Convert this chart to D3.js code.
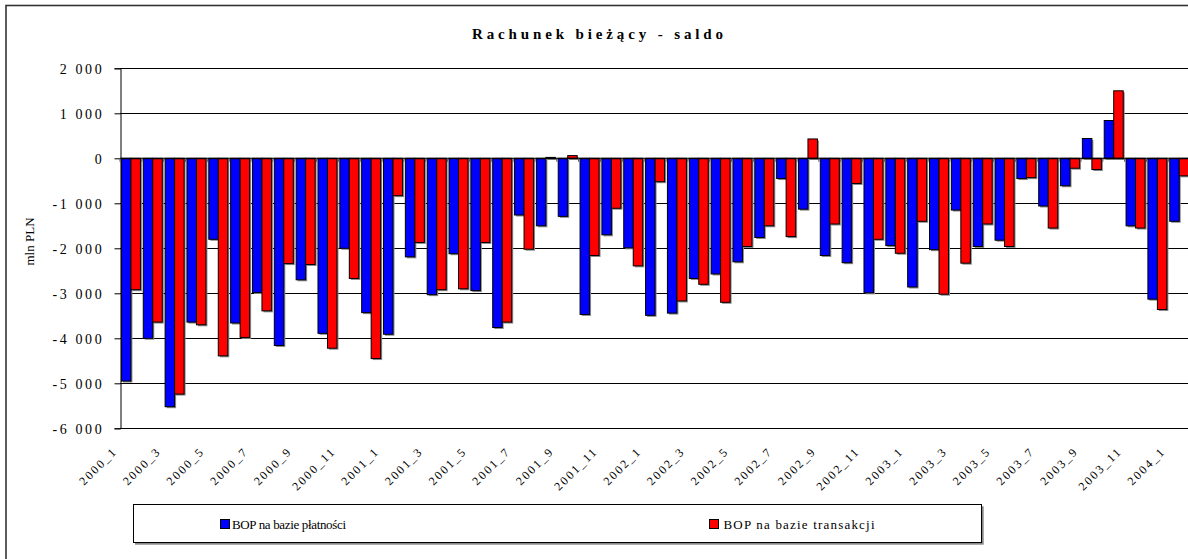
<!DOCTYPE html>
<html>
<head>
<meta charset="utf-8">
<script src="https://cdn.jsdelivr.net/npm/d3@7"></script>
<style>
  body { margin: 0; background: #fff; }
  svg { display: block; font-family: "Liberation Serif", "Times New Roman", serif; }
</style>
</head>
<body>
<svg id="chart"></svg>
<script>
const width = 1188;
const height = 559;

// months 2000_1 .. 2004_1
const categories = [];
for (let yr = 2000; yr <= 2004; yr++) {
  for (let m = 1; m <= 12; m++) {
    if (yr === 2004 && m > 1) break;
    categories.push(yr + '_' + m);
  }
}

// mln PLN
const platnosci = [
  -4950, -4000, -5520, -3640, -1800, -3660, -2980, -4160, -2700, -3890, -2000, -3430,
  -3910, -2190, -3030, -2120, -2940, -3760, -1260, -1500, -1290, -3470, -1700, -1990,
  -3490, -3440, -2670, -2570, -2300, -1760, -450, -1130, -2160, -2320, -2990, -1940,
  -2860, -2030, -1150, -1960, -1820, -450, -1060, -610, 440, 840, -1500, -3130,
  -1400
];
const transakcji = [
  -2920, -3640, -5240, -3700, -4390, -3980, -3390, -2340, -2360, -4220, -2670, -4450,
  -830, -1870, -2920, -2900, -1870, -3640, -2020, 20, 60, -2160, -1110, -2390,
  -520, -3170, -2800, -3200, -1960, -1500, -1740, 430, -1460, -560, -1800, -2110,
  -1400, -3020, -2330, -1460, -1960, -430, -1550, -220, -250, 1500, -1550, -3360,
  -390
];
const seriesNames = ['BOP na bazie płatności', 'BOP na bazie transakcji'];
const seriesColors = ['#0000ff', '#ff0000'];
const yTicks = [2000, 1000, 0, -1000, -2000, -3000, -4000, -5000, -6000];

const svg = d3.select('#chart')
  .attr('width', width)
  .attr('height', height);

// outer chart frame
svg.append('rect')
  .attr('x', 6).attr('y', 5.5)
  .attr('width', 1200).attr('height', 560)
  .attr('fill', 'none').attr('stroke', '#333').attr('stroke-width', 1.6);

// title
svg.append('text')
  .attr('x', 472).attr('y', 39)
  .attr('font-size', 15).attr('font-weight', 'bold')
  .attr('textLength', 251).attr('lengthAdjust', 'spacing')
  .text('Rachunek bieżący - saldo');

const x = d3.scaleBand()
  .domain(categories)
  .range([120, 120 + categories.length * 21.84]);

const xs = d3.scaleBand()
  .domain([0, 1])
  .range([0, x.bandwidth()])
  .paddingOuter(0.15);

const y = d3.scaleLinear()
  .domain([-6000, 2000])
  .range([428.3, 68.3]);

const fmt = d3.formatLocale({ decimal: ',', thousands: ' ', grouping: [3], currency: ['', ''], minus: '-' }).format(',');

// gridlines
svg.append('g')
  .selectAll('line')
  .data(yTicks)
  .enter()
  .append('line')
  .attr('x1', 120).attr('x2', width)
  .attr('y1', d => Math.round(y(d)) + 0.5)
  .attr('y2', d => Math.round(y(d)) + 0.5)
  .attr('stroke', '#000').attr('stroke-width', 1);

// value axis
const yAxis = svg.append('g')
  .attr('transform', 'translate(120.5,0)')
  .call(d3.axisLeft(y).tickValues(yTicks).tickSize(6).tickFormat(d => fmt(d)));
yAxis.select('.domain').attr('stroke', '#000');
yAxis.selectAll('.tick line').attr('stroke', '#000');
yAxis.selectAll('.tick text')
  .attr('font-family', '"Liberation Serif", "Times New Roman", serif')
  .attr('font-size', 14)
  .attr('letter-spacing', 2.6)
  .attr('fill', '#000')
  .attr('x', -16.2)
  .attr('dy', '0.36em');

// axis title
svg.append('text')
  .attr('transform', 'translate(34,241.5) rotate(-90)')
  .attr('text-anchor', 'middle')
  .attr('font-size', 13)
  .text('mln PLN');

// bars
const bars = svg.append('g');
[platnosci, transakcji].forEach(function(values, s) {
  const g = bars.append('g');
  g.selectAll('rect.shadow')
    .data(values)
    .enter()
    .append('rect')
    .attr('class', 'shadow')
    .attr('x', (d, i) => x(categories[i]) + xs(s) + 1.5)
    .attr('y', d => Math.min(y(d), y(0)) + 1.5)
    .attr('width', xs.bandwidth())
    .attr('height', d => Math.abs(y(d) - y(0)))
    .attr('fill', '#8a8a8a');
  g.selectAll('rect.bar')
    .data(values)
    .enter()
    .append('rect')
    .attr('class', 'bar')
    .attr('x', (d, i) => x(categories[i]) + xs(s))
    .attr('y', d => Math.min(y(d), y(0)))
    .attr('width', xs.bandwidth())
    .attr('height', d => Math.abs(y(d) - y(0)))
    .attr('fill', seriesColors[s])
    .attr('stroke', '#000')
    .attr('stroke-width', 1);
});

// category axis line at zero with tick marks
svg.append('line')
  .attr('x1', 120).attr('x2', width)
  .attr('y1', Math.round(y(0)) + 0.5).attr('y2', Math.round(y(0)) + 0.5)
  .attr('stroke', '#000').attr('stroke-width', 1.3);
svg.append('g')
  .selectAll('line')
  .data(categories)
  .enter()
  .append('line')
  .attr('x1', d => x(d)).attr('x2', d => x(d))
  .attr('y1', y(0)).attr('y2', y(0) + 3.5)
  .attr('stroke', '#555');

// category labels, every second month
svg.append('g')
  .selectAll('text')
  .data(categories.filter((d, i) => i % 2 === 0))
  .enter()
  .append('text')
  .attr('transform', d => `translate(${x(d) + x.bandwidth() / 2 - 13},452) rotate(-45)`)
  .attr('text-anchor', 'end')
  .attr('font-size', 12)
  .attr('letter-spacing', 2)
  .text(d => d);

// legend
svg.append('rect')
  .attr('x', 135).attr('y', 506.3)
  .attr('width', 848.7).attr('height', 38.4)
  .attr('fill', '#888');
svg.append('rect')
  .attr('x', 133.5).attr('y', 504.5)
  .attr('width', 848).attr('height', 38)
  .attr('fill', '#fff').attr('stroke', '#000').attr('stroke-width', 1);

const legendX = [220.5, 709.5];
const legendTextX = [232, 723.5];
const legendLen = [114, 151];
seriesNames.forEach(function(name, s) {
  svg.append('rect')
    .attr('x', legendX[s]).attr('y', 519.5)
    .attr('width', 9).attr('height', 9)
    .attr('fill', seriesColors[s]).attr('stroke', '#000');
  svg.append('text')
    .attr('x', legendTextX[s]).attr('y', 529)
    .attr('font-size', 13)
    .attr('textLength', legendLen[s]).attr('lengthAdjust', 'spacing')
    .text(name);
});
</script>
</body>
</html>
